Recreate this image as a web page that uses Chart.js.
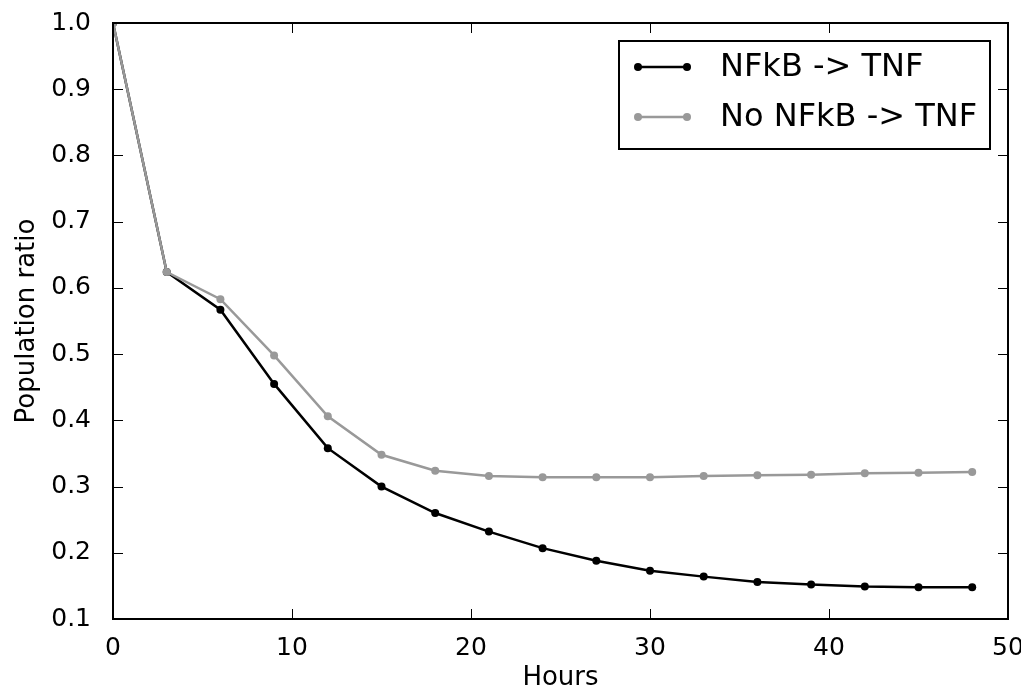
<!DOCTYPE html>
<html>
<head>
<meta charset="utf-8">
<script src="https://cdn.jsdelivr.net/npm/chart.js@4/dist/chart.umd.min.js"></script>
<style>
  html, body { margin: 0; padding: 0; background: #fff; }
  #wrap { width: 1021px; height: 694px; }
</style>
</head>
<body>
<div id="wrap"><canvas id="chart" width="1021" height="694"></canvas></div>
<script>
// data
const hours = [0, 3, 6, 9, 12, 15, 18, 21, 24, 27, 30, 33, 36, 39, 42, 45, 48];
const withFeedback = [1.0, 0.624, 0.567, 0.455, 0.358, 0.300, 0.260, 0.232, 0.207, 0.188, 0.173, 0.164, 0.156, 0.152, 0.149, 0.148, 0.148];
const noFeedback = [1.0, 0.624, 0.583, 0.498, 0.406, 0.348, 0.324, 0.316, 0.314, 0.314, 0.314, 0.316, 0.317, 0.318, 0.320, 0.321, 0.322];
const seriesLabels = ['NFkB -> TNF', 'No NFkB -> TNF'];
const xTitle = 'Hours';
const yTitle = 'Population ratio';

const FONT = "'DejaVu Sans', sans-serif";

function toPoints(ys) {
    return hours.map((h, i) => ({ x: h, y: ys[i] }));
}

// matplotlib-style frame, inward ticks and boxed legend
const framePlugin = {
    id: 'frame',
    afterDatasetsDraw(chart) {
        const ctx = chart.ctx;
        const a = chart.chartArea;
        const xs = chart.scales.x, ys = chart.scales.y;
        ctx.save();
        ctx.strokeStyle = '#000';
        ctx.lineWidth = 1;
        ctx.beginPath();
        xs.ticks.forEach(t => {
            const px = Math.round(xs.getPixelForValue(t.value)) + 0.5;
            ctx.moveTo(px, a.bottom); ctx.lineTo(px, a.bottom - 10);
            ctx.moveTo(px, a.top); ctx.lineTo(px, a.top + 10);
        });
        ys.ticks.forEach(t => {
            const py = Math.round(ys.getPixelForValue(t.value)) + 0.5;
            ctx.moveTo(a.left, py); ctx.lineTo(a.left + 10, py);
            ctx.moveTo(a.right, py); ctx.lineTo(a.right - 10, py);
        });
        ctx.stroke();

        ctx.lineWidth = 2;
        ctx.strokeRect(a.left, a.top, a.right - a.left, a.bottom - a.top);

        // legend
        const lx = 619, ly = 41, lw = 371, lh = 108;
        ctx.fillStyle = '#fff';
        ctx.fillRect(lx, ly, lw, lh);
        ctx.lineWidth = 2;
        ctx.strokeRect(lx, ly, lw, lh);
        ctx.font = '32px ' + FONT;
        ctx.textBaseline = 'middle';
        chart.data.datasets.forEach((ds, i) => {
            const yy = 67 + i * 50;
            ctx.strokeStyle = ds.borderColor;
            ctx.lineWidth = ds.borderWidth;
            ctx.beginPath();
            ctx.moveTo(638, yy); ctx.lineTo(687, yy);
            ctx.stroke();
            ctx.fillStyle = ds.pointBackgroundColor;
            [638, 687].forEach(px => {
                ctx.beginPath();
                ctx.arc(px, yy, 4, 0, Math.PI * 2);
                ctx.fill();
            });
            ctx.fillStyle = '#000';
            ctx.fillText(ds.label, 720, yy + 1);
        });
        ctx.restore();
    }
};

new Chart(document.getElementById('chart'), {
    type: 'line',
    data: {
        datasets: [
            {
                label: seriesLabels[0],
                data: toPoints(withFeedback),
                borderColor: '#000000',
                backgroundColor: '#000000',
                pointBackgroundColor: '#000000',
                pointBorderColor: '#000000',
                borderWidth: 2.5,
                pointRadius: 4,
                pointBorderWidth: 0,
                tension: 0,
                order: 1
            },
            {
                label: seriesLabels[1],
                data: toPoints(noFeedback),
                borderColor: '#999999',
                backgroundColor: '#999999',
                pointBackgroundColor: '#999999',
                pointBorderColor: '#999999',
                borderWidth: 2.5,
                pointRadius: 4,
                pointBorderWidth: 0,
                tension: 0,
                order: 0
            }
        ]
    },
    options: {
        responsive: false,
        animation: false,
        layout: { padding: { top: 23, right: 0, left: 0, bottom: 0 } },
        plugins: { legend: { display: false }, tooltip: { enabled: false } },
        scales: {
            x: {
                type: 'linear',
                min: 0, max: 50,
                grid: { display: false },
                border: { display: false },
                ticks: { stepSize: 10, color: '#000', padding: 6, font: { family: FONT, size: 25 }, maxRotation: 0 },
                title: { display: true, text: xTitle, color: '#000', padding: { top: 0, bottom: 0 }, font: { family: FONT, size: 26 } },
                afterFit(scale) { scale.height = 75; scale.paddingRight = 13; }
            },
            y: {
                min: 0.1, max: 1.0,
                grid: { display: false },
                border: { display: false },
                ticks: {
                    stepSize: 0.1, color: '#000', padding: 14,
                    font: { family: FONT, size: 25 },
                    callback: v => v.toFixed(1)
                },
                title: { display: true, text: yTitle, color: '#000', padding: { top: 12, bottom: 0 }, font: { family: FONT, size: 26 } },
                afterFit(scale) { scale.width = 113; scale.paddingTop = 0; scale.paddingBottom = 0; }
            }
        }
    },
    plugins: [framePlugin]
});
</script>
</body>
</html>
